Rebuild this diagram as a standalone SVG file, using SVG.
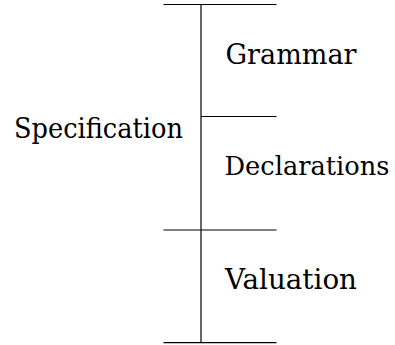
<svg xmlns="http://www.w3.org/2000/svg" width="395" height="345" viewBox="0 0 395 345">
<style>
.l{stroke:#000;stroke-width:1.2;fill:none}
</style>
<rect width="395" height="345" fill="#fff"/>
<g id="connectors">
<line class="l" x1="201" y1="4.5" x2="201" y2="342.7"/>
<line class="l" x1="163.5" y1="4.5" x2="276.5" y2="4.5"/>
<line class="l" x1="201" y1="116.5" x2="276.5" y2="116.5"/>
<line class="l" x1="163.5" y1="230" x2="276.5" y2="230"/>
<line class="l" x1="163.5" y1="342.7" x2="276.5" y2="342.7"/>
</g>
<g font-family="DejaVu Serif, serif" font-size="28" fill="#000">
<g id="specification"><text x="14" y="137.5" textLength="169" lengthAdjust="spacingAndGlyphs">Specification</text></g>
<g id="grammar"><text x="225.5" y="64.3" textLength="131" lengthAdjust="spacingAndGlyphs">Grammar</text></g>
<g id="declarations"><text x="224.5" y="175" font-size="26" textLength="165" lengthAdjust="spacingAndGlyphs">Declarations</text></g>
<g id="valuation"><text x="225" y="289.3" textLength="132" lengthAdjust="spacingAndGlyphs">Valuation</text></g>
</g>
</svg>
